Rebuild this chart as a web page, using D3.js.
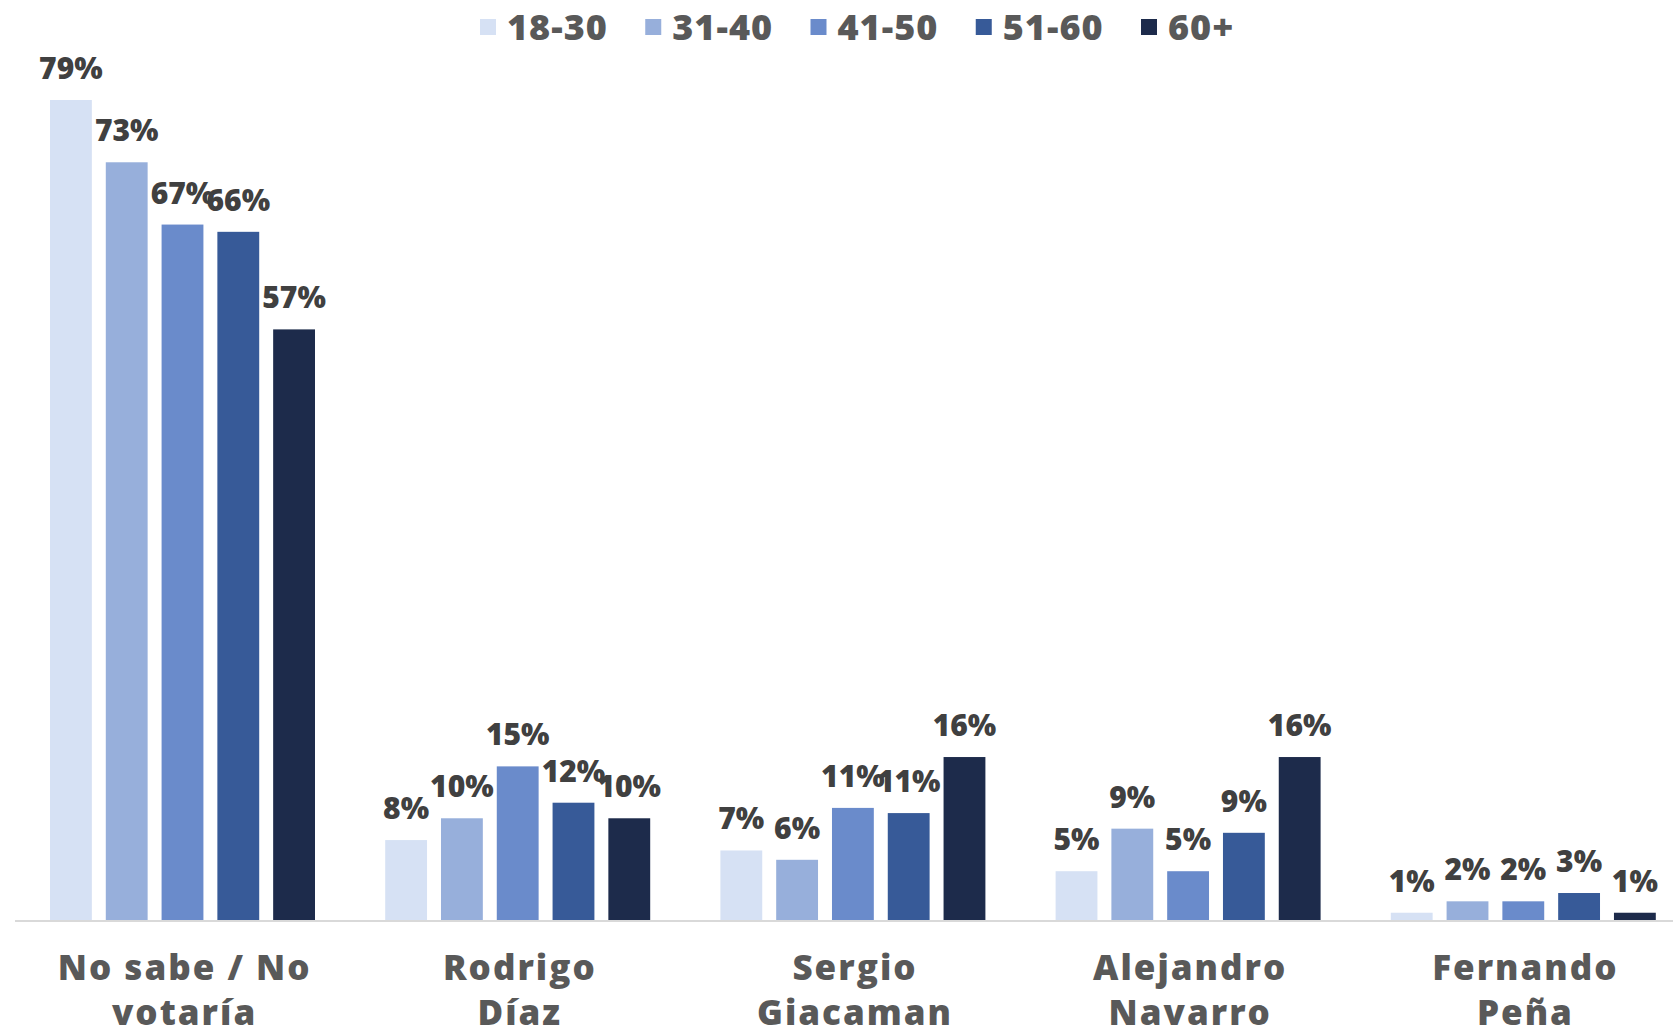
<!DOCTYPE html>
<html>
<head>
<meta charset="utf-8">
<script src="https://cdn.jsdelivr.net/npm/d3@7"></script>
<style>
  html, body { margin: 0; padding: 0; background: #fff; }
  svg { display: block; font-family: "Open Sans", sans-serif; font-weight: 800; }
</style>
</head>
<body>
<div id="chart"></div>
<script>
// data (bar heights, and the rounded labels printed on them)
var categories = [["No sabe / No", "votaría"], ["Rodrigo", "Díaz"], ["Sergio", "Giacaman"], ["Alejandro", "Navarro"], ["Fernando", "Peña"]];
var series = ["18-30", "31-40", "41-50", "51-60", "60+"];
var v1830 = [79, 7.7, 6.7, 4.7, 0.7];
var v3140 = [73, 9.8, 5.8, 8.8, 1.8];
var v4150 = [67, 14.8, 10.8, 4.7, 1.8];
var v5160 = [66.3, 11.3, 10.3, 8.4, 2.6];
var v60 = [56.9, 9.8, 15.7, 15.7, 0.7];
var l1830 = [79, 8, 7, 5, 1];
var l3140 = [73, 10, 6, 9, 2];
var l4150 = [67, 15, 11, 5, 2];
var l5160 = [66, 12, 11, 9, 3];
var l60 = [57, 10, 16, 16, 1];
var colors = ["#d6e1f4", "#97afdb", "#6a8bcb", "#375a98", "#1d2b4b"];

var values = [v1830, v3140, v4150, v5160, v60];
var labels = [l1830, l3140, l4150, l5160, l60];

var W = 1673, H = 1034;
var svg = d3.select("#chart").append("svg").attr("width", W).attr("height", H);

var catKeys = categories.map(function(c){ return c.join(" "); });

var x0 = d3.scaleBand().domain(catKeys).range([15, 1691]);
var x1 = d3.scaleBand().domain(series).range([35, 300]).paddingInner(0.25);
var y = d3.scaleLinear().domain([0, 79]).range([920, 100]);

// baseline
svg.append("line")
  .attr("x1", 15).attr("x2", W)
  .attr("y1", y(0) + 1).attr("y2", y(0) + 1)
  .attr("stroke", "#d9d9d9").attr("stroke-width", 2);

var groups = svg.selectAll("g.grp")
  .data(catKeys)
  .enter().append("g")
  .attr("class", "grp")
  .attr("transform", function(d){ return "translate(" + x0(d) + ",0)"; });

groups.each(function(cat, ci){
  var g = d3.select(this);
  var rows = series.map(function(s, si){
    return {s: s, v: values[si][ci], l: labels[si][ci], c: colors[si]};
  });

  g.selectAll("rect")
    .data(rows)
    .enter().append("rect")
    .attr("x", function(d){ return x1(d.s); })
    .attr("width", x1.bandwidth())
    .attr("y", function(d){ return y(d.v); })
    .attr("height", function(d){ return y(0) - y(d.v); })
    .attr("fill", function(d){ return d.c; });

  g.selectAll("text.val")
    .data(rows)
    .enter().append("text")
    .attr("class", "val")
    .attr("x", function(d){ return x1(d.s) + x1.bandwidth() / 2; })
    .attr("y", function(d){ return y(d.v) - 21; })
    .attr("text-anchor", "middle")
    .attr("fill", "#404040")
    .style("font-size", "30px")
    .text(function(d){ return d.l + "%"; });

  var lab = g.append("text")
    .attr("text-anchor", "middle")
    .attr("fill", "#595959")
    .style("font-size", "35px")
    .style("letter-spacing", "2px");
  categories[ci].forEach(function(line, li){
    lab.append("tspan")
      .attr("x", x0.bandwidth() / 2 + 2)
      .attr("y", 980 + li * 45)
      .text(line);
  });
});

// legend
var legend = svg.append("g");
var lx = d3.scalePoint().domain(series).range([480, 1141]);
var items = legend.selectAll("g")
  .data(series)
  .enter().append("g")
  .attr("transform", function(d){ return "translate(" + lx(d) + ",0)"; });
items.append("rect")
  .attr("x", 0).attr("y", 19)
  .attr("width", 16).attr("height", 16)
  .attr("fill", function(d, i){ return colors[i]; });
items.append("text")
  .attr("x", 27).attr("y", 40)
  .attr("fill", "#595959")
  .style("font-size", "36px")
  .style("letter-spacing", "1px")
  .text(function(d){ return d; });
</script>
</body>
</html>
